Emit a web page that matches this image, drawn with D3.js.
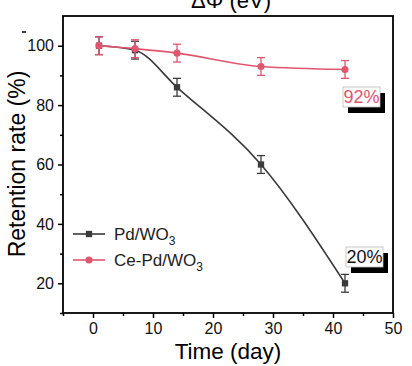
<!DOCTYPE html>
<html>
<head>
<meta charset="utf-8">
<script src="https://cdn.jsdelivr.net/npm/d3@7"></script>
<style>
body{margin:0;background:#fff;}
svg{font-family:Arial,"Liberation Sans",sans-serif;}
</style>
</head>
<body>
<svg width="412" height="366"></svg>
<script>
const days = [1, 7, 14, 28, 42];
const pdValues = [100, 98.5, 86, 60, 20];
const cePdValues = [100, 99, 97.5, 93, 92];
const errPd = [3, 3, 3, 3, 3];
const errCePd = [3, 3, 3, 3, 3];
const xTicks = [0, 10, 20, 30, 40, 50];
const yTicks = [20, 40, 60, 80, 100];
const seriesNames = ['Pd/WO', 'Ce-Pd/WO'];
const colors = ['#3b3b3b', '#e0566f'];

const svg = d3.select('svg');
const L = 63, R = 393, T = 16, B = 313;

const x = d3.scaleLinear().domain([-5, 50]).range([L, R]);
const y = d3.scaleLinear().domain([10, 110]).range([B, T]);

// frame
svg.append('rect').attr('x', L).attr('y', T).attr('width', R - L).attr('height', B - T)
  .attr('fill', 'none').attr('stroke', '#000').attr('stroke-width', 1.8);

// axes
const xAxis = svg.append('g').attr('transform', `translate(0,${B})`)
  .call(d3.axisBottom(x).tickValues(xTicks).tickSize(5).tickPadding(5));
xAxis.append('g').call(d3.axisBottom(x).tickValues(d3.range(-5, 50, 10)).tickSize(3).tickFormat(''));
const yAxis = svg.append('g').attr('transform', `translate(${L},0)`)
  .call(d3.axisLeft(y).tickValues(yTicks).tickSize(5).tickPadding(4));
yAxis.append('g').call(d3.axisLeft(y).tickValues(d3.range(10, 110, 20)).tickSize(3).tickFormat(''));
svg.selectAll('.domain').remove();
svg.selectAll('.tick line').attr('stroke', '#000').attr('stroke-width', 1.5);
svg.selectAll('.tick text').attr('font-size', 16).attr('fill', '#111');

// titles
svg.append('text').attr('x', 228).attr('y', 359).attr('text-anchor', 'middle')
  .attr('font-size', 22.5).text('Time (day)');
svg.append('text').attr('transform', 'translate(25,164) rotate(-90)').attr('text-anchor', 'middle')
  .attr('font-size', 23).text('Retention rate (%)');
svg.append('text').attr('x', 231).attr('y', 8).attr('text-anchor', 'middle')
  .attr('font-size', 22).text('ΔΦ (eV)');
svg.append('line').attr('x1', 22).attr('x2', 26).attr('y1', 32).attr('y2', 32)
  .attr('stroke', '#000').attr('stroke-width', 1.5);

const line = d3.line().x(d => x(d[0])).y(d => y(d[1])).curve(d3.curveMonotoneX);

function drawSeries(vals, errs, color, shape) {
  const pts = days.map((d, i) => [d, vals[i], errs[i]]);
  svg.append('path').datum(pts).attr('d', line).attr('fill', 'none')
    .attr('stroke', color).attr('stroke-width', 1.6);
  const g = svg.append('g').attr('stroke', color).attr('stroke-width', 1.3);
  pts.forEach(p => {
    g.append('line').attr('x1', x(p[0])).attr('x2', x(p[0]))
      .attr('y1', y(p[1] + p[2])).attr('y2', y(p[1] - p[2]));
    [p[1] + p[2], p[1] - p[2]].forEach(v => g.append('line')
      .attr('x1', x(p[0]) - 4).attr('x2', x(p[0]) + 4).attr('y1', y(v)).attr('y2', y(v)));
  });
  svg.append('g').selectAll('path').data(pts).enter().append('path')
    .attr('transform', d => `translate(${x(d[0])},${y(d[1])})`)
    .attr('d', d3.symbol().type(shape).size(40)).attr('fill', color);
}
drawSeries(pdValues, errPd, colors[0], d3.symbolSquare);
drawSeries(cePdValues, errCePd, colors[1], d3.symbolCircle);

// legend
seriesNames.forEach((name, i) => {
  const ly = 234 + i * 26;
  svg.append('line').attr('x1', 73).attr('x2', 105).attr('y1', ly).attr('y2', ly)
    .attr('stroke', colors[i]).attr('stroke-width', 1.6);
  svg.append('path').attr('transform', `translate(89,${ly})`)
    .attr('d', d3.symbol().type(i ? d3.symbolCircle : d3.symbolSquare).size(40)).attr('fill', colors[i]);
  const t = svg.append('text').attr('x', 114).attr('y', ly + 6).attr('font-size', 17).attr('fill', '#222').text(name);
  t.append('tspan').attr('font-size', 12).attr('dy', 5).text('3');
});

// annotations
function note(cx, cy, label, color) {
  const w = 37, h = 20;
  svg.append('rect').attr('x', cx + 5).attr('y', cy + 6).attr('width', w).attr('height', h).attr('fill', '#000');
  svg.append('rect').attr('x', cx).attr('y', cy).attr('width', w).attr('height', h)
    .attr('fill', '#fff').attr('stroke', '#bbb').attr('stroke-width', 0.8);
  svg.append('text').attr('x', cx + w / 2).attr('y', cy + 16).attr('text-anchor', 'middle')
    .attr('font-size', 18).attr('fill', color).text(label);
}
note(343, 87, '92%', colors[1]);
note(346, 247, '20%', '#111');
</script>
</body>
</html>
